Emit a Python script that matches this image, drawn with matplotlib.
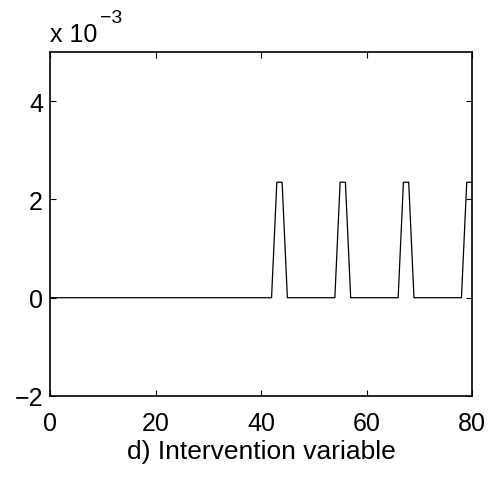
import numpy as np
import matplotlib
matplotlib.use("Agg")
import matplotlib.pyplot as plt

plt.rcParams['font.family'] = ['Liberation Sans', 'DejaVu Sans']

# intervention variable sampled at t = 0..80
t = list(range(0, 81))
pulse_at = [43, 44, 55, 56, 67, 68, 79, 80]
pulse_level = 2.35  # in units of 1e-3
value = [pulse_level if k in pulse_at else 0.0 for k in t]

xticks = [0, 20, 40, 60, 80]
yticks = [-2, 0, 2, 4]
ytick_labels = ['\u22122', '0', '2', '4']

W, H = 490, 481
fig = plt.figure(figsize=(W / 100, H / 100), dpi=100)
ax = fig.add_axes([50 / W, 1 - 397 / H, 422 / W, 344 / H])
ax.plot(t, value, color='k', linewidth=0.9)
ax.set_xlim(0, 80)
ax.set_ylim(-2, 5)
ax.set_xticks(xticks)
ax.set_yticks(yticks)
ax.set_yticklabels(ytick_labels)
ax.tick_params(direction='in', top=True, right=True, labelsize=18, length=4, width=0.8)
ax.tick_params(axis='x', pad=11)
ax.tick_params(axis='y', pad=5)
for s in ax.spines.values():
    s.set_linewidth(1.2)
ax.set_xlabel('d) Intervention variable', fontsize=19, labelpad=3)

# exponent label, matlab style
fig.text(50 / W, 1 - 42 / H, 'x 10', fontsize=18, ha='left', va='baseline')
fig.text(100 / W, 1 - 23 / H, '\u22123', fontsize=14, ha='left', va='baseline')

fig.savefig('out.png', dpi=100)
